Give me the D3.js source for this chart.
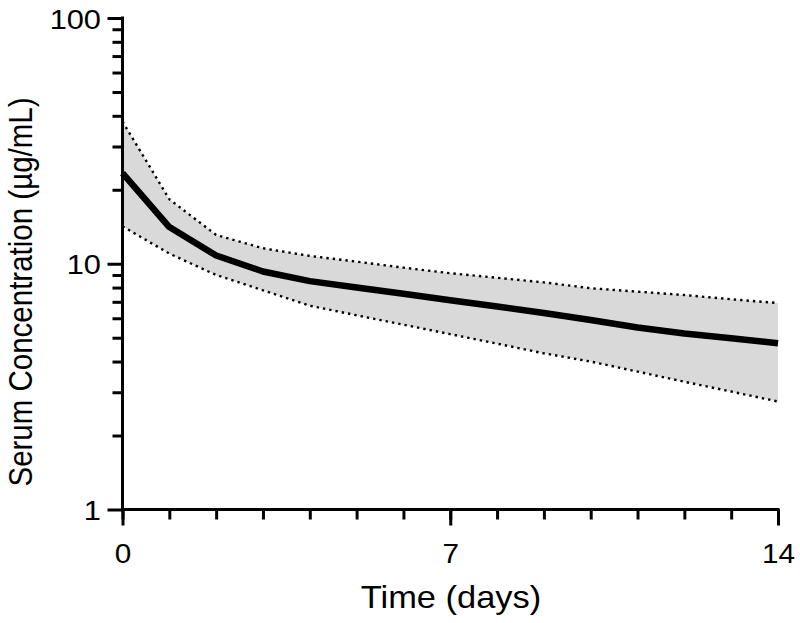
<!DOCTYPE html>
<html><head><meta charset="utf-8">
<script src="https://cdn.jsdelivr.net/npm/d3@7"></script>
<style>body{margin:0;background:#fff} svg{display:block}</style>
</head><body>
<svg id="chart" width="800" height="623"></svg>
<script>
const days = [0,1,2,3,4,5,6,7,8,9,10,11,12,13,14];
const meanConc  = [23.4,14.1,10.8,9.3,8.5,8.0,7.55,7.1,6.7,6.3,5.9,5.5,5.2,4.98,4.75];
const upperConc = [37.9,18.3,13.1,11.56,10.76,10.2,9.64,9.15,8.77,8.4,7.95,7.7,7.46,7.17,6.92];
const lowerConc = [14.2,11.0,9.0,7.8,6.75,6.17,5.65,5.17,4.73,4.32,4.0,3.64,3.31,3.02,2.75];
const xMajorTicks = [0,7,14];
const xMinorTicks = [0,1,2,3,4,5,6,7,8,9,10,11,12,13,14];
const yMajorTicks = [1,10,100];
const yMinorTicks = [2,3,4,5,6,7,8,9,20,30,40,50,60,70,80,90];
const xTitle = "Time (days)";
const yTitle = "Serum Concentration (µg/mL)";

const svg = d3.select("#chart");
const font = "'Liberation Sans', Arial, sans-serif";
const x = d3.scaleLinear().domain([0,14]).range([122.5,778]);
const y = d3.scaleLog().domain([1,100]).range([509.5,18]);

const rows = days.map((d,i)=>({d, m:meanConc[i], u:upperConc[i], l:lowerConc[i]}));

// band
svg.append("path").datum(rows)
  .attr("d", d3.area().x(r=>x(r.d)).y0(r=>y(r.l)).y1(r=>y(r.u)))
  .attr("fill","#d9d9d9");
// dotted bounds
["u","l"].forEach(k=>{
  svg.append("path").datum(rows)
    .attr("d", d3.line().x(r=>x(r.d)).y(r=>y(r[k])))
    .attr("fill","none").attr("stroke","#000").attr("stroke-width",2.4)
    .attr("stroke-dasharray","2.4,4");
});
// mean line
svg.append("path").datum(rows)
  .attr("d", d3.line().x(r=>x(r.d)).y(r=>y(r.m)))
  .attr("fill","none").attr("stroke","#000").attr("stroke-width",6.5)
  .attr("stroke-linejoin","round");

function styleAxis(g){
  g.select(".domain").remove();
  g.selectAll(".tick line").attr("stroke","#000").attr("stroke-width",3);
}
// y axis
const gyMinor = svg.append("g").attr("transform","translate(122.5,0)")
  .call(d3.axisLeft(y).tickValues(yMinorTicks).tickSize(10).tickFormat(""));
styleAxis(gyMinor);
const gy = svg.append("g").attr("transform","translate(122.5,0)")
  .call(d3.axisLeft(y).tickValues(yMajorTicks).tickSize(15).tickFormat(d3.format("d")));
styleAxis(gy);
gy.selectAll(".tick text")
  .attr("x",null).attr("dy",null)
  .attr("transform","translate(-21.5,10) scale(1.1,1)")
  .attr("font-family",font).attr("font-size",28).attr("fill","#000");
svg.append("line").attr("x1",122.5).attr("x2",122.5).attr("y1",y(100)-1.5).attr("y2",y(1))
  .attr("stroke","#000").attr("stroke-width",3);

// x axis
const gxMinor = svg.append("g").attr("transform","translate(0,509.5)")
  .call(d3.axisBottom(x).tickValues(xMinorTicks).tickSize(10).tickFormat(""));
styleAxis(gxMinor);
const gx = svg.append("g").attr("transform","translate(0,509.5)")
  .call(d3.axisBottom(x).tickValues(xMajorTicks).tickSize(16).tickFormat(d3.format("d")));
styleAxis(gx);
gx.selectAll(".tick text")
  .attr("y",null).attr("dy",null)
  .attr("transform","translate(0,53.5) scale(1.1,1)")
  .attr("font-family",font).attr("font-size",27).attr("fill","#000");
svg.append("line").attr("x1",121).attr("x2",x(14)+1.5).attr("y1",509.5).attr("y2",509.5)
  .attr("stroke","#000").attr("stroke-width",3);

// titles
svg.append("text").attr("transform","translate(451,608) scale(1.13,1)").attr("text-anchor","middle")
  .attr("font-family",font).attr("font-size",30.5).attr("fill","#000").text(xTitle);
svg.append("text").attr("transform","translate(31.5,292) scale(1.12,1) rotate(-90)").attr("text-anchor","middle")
  .attr("font-family",font).attr("font-size",29.5).attr("fill","#000").text(yTitle);
</script>
</body></html>
